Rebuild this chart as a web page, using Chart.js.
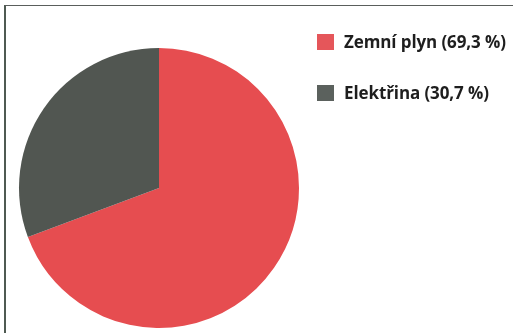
<!DOCTYPE html>
<html>
<head>
<meta charset="utf-8">
<script src="https://cdn.jsdelivr.net/npm/chart.js@4/dist/chart.umd.min.js"></script>
<style>
  html, body { margin: 0; padding: 0; background: #fff; }
  #wrap { position: relative; width: 513px; height: 333px; overflow: hidden; background: #fff; }
  #frame { position: absolute; left: 4px; top: 5px; width: 520px; height: 340px;
           border-top: 1px solid #5a5e5c; border-left: 2px solid #4f5a52; box-sizing: border-box; }
  #c { position: absolute; left: 0; top: 0; }
  .leg { position: absolute; left: 317px; display: flex; align-items: center;
         font-family: "Open Sans", Lato, sans-serif; font-weight: bold; font-size: 17px; letter-spacing: -0.1px; color: #1e1e1e; white-space: nowrap; }
  .leg .sw { width: 17px; height: 16px; margin-right: 10px; flex: none; }
</style>
</head>
<body>
<div id="wrap">
  <div id="frame"></div>
  <canvas id="c" width="513" height="333"></canvas>
  <div id="legend"></div>
</div>
<script>
const categories = ['Zemní plyn', 'Elektřina'];
const shares = [69.3, 30.7];
const legendLabels = ['Zemní plyn (69,3 %)', 'Elektřina (30,7 %)'];
const sliceColors = ['#e64d50', '#515651'];
const legendColors = ['#e5565a', '#5b615d'];

const ctx = document.getElementById('c');
new Chart(ctx, {
  type: 'pie',
  data: {
    labels: categories,
    datasets: [{
      data: shares,
      backgroundColor: sliceColors,
      borderWidth: 0
    }]
  },
  options: {
    responsive: false,
    animation: false,
    layout: { padding: { left: 19, right: 214, top: 48, bottom: 5 } },
    plugins: {
      legend: { display: false },
      tooltip: { enabled: false }
    }
  }
});

const legendTops = [30, 81];
const legendEl = document.getElementById('legend');
legendLabels.forEach((txt, i) => {
  const row = document.createElement('div');
  row.className = 'leg';
  row.style.top = legendTops[i] + 'px';
  const sw = document.createElement('span');
  sw.className = 'sw';
  sw.style.background = legendColors[i];
  const t = document.createElement('span');
  t.textContent = txt;
  row.appendChild(sw);
  row.appendChild(t);
  legendEl.appendChild(row);
});
</script>
</body>
</html>
